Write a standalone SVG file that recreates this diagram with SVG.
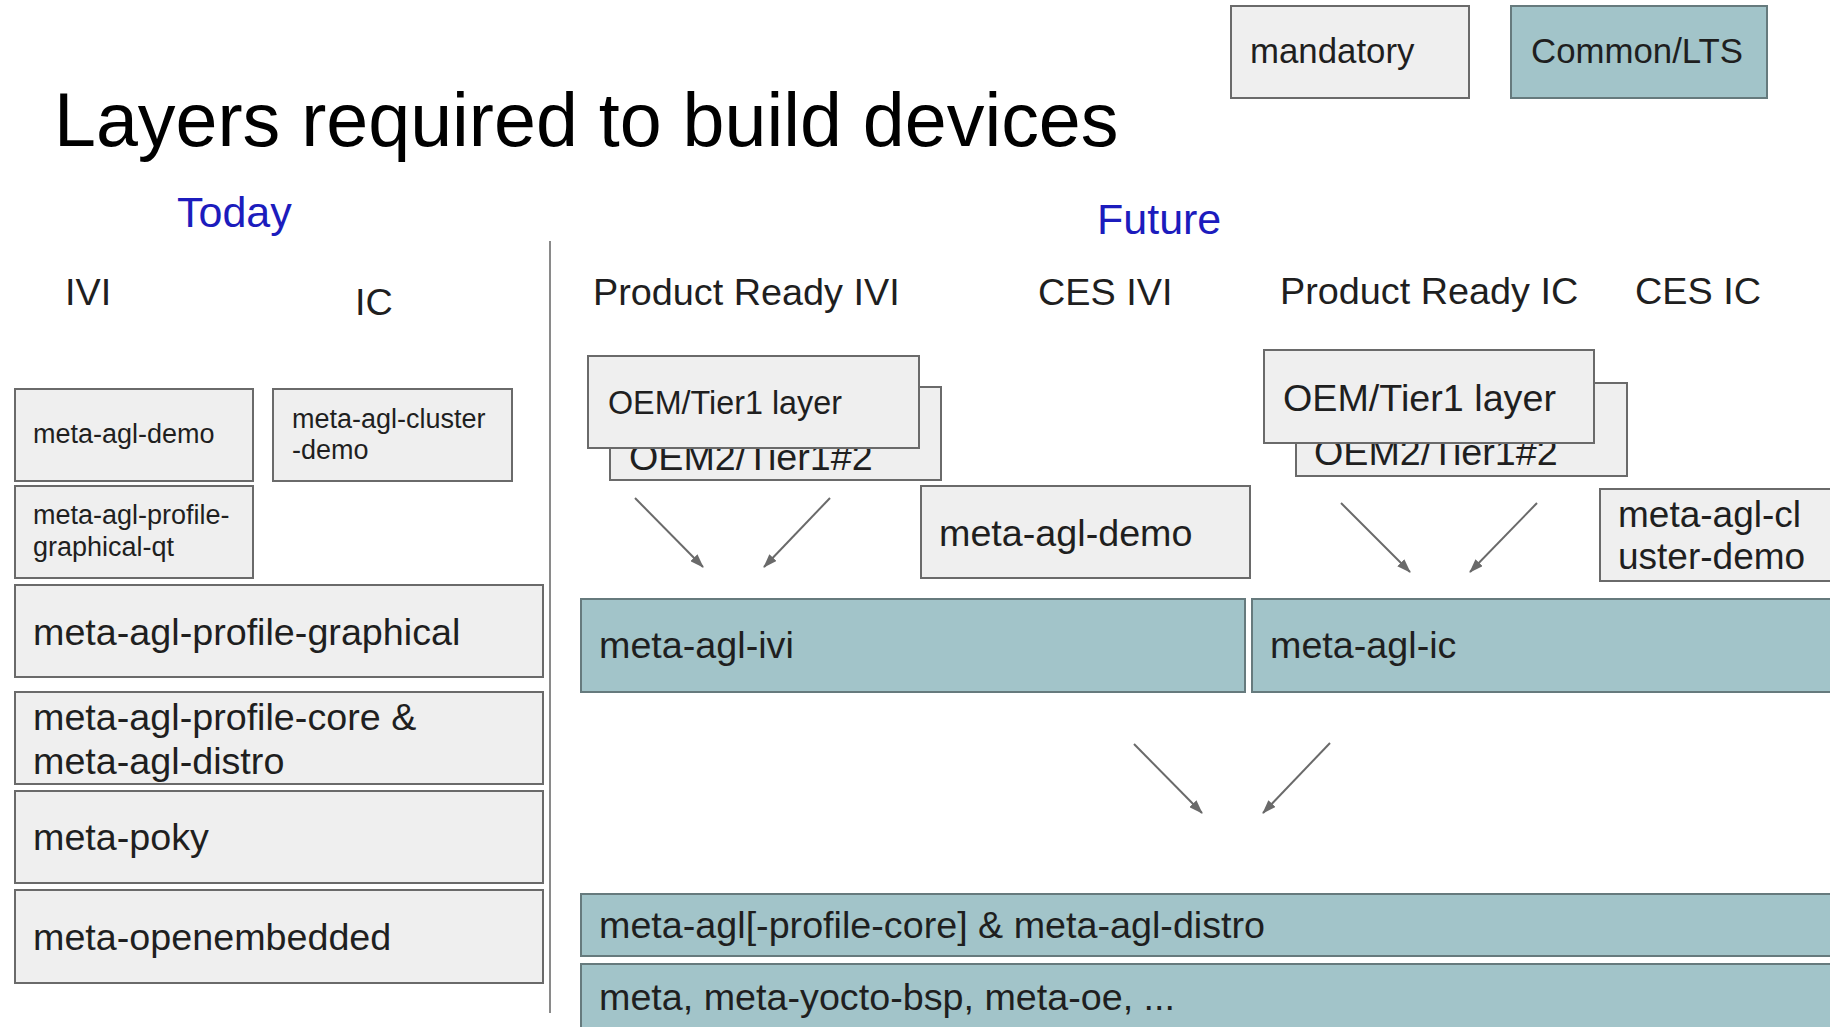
<svg xmlns="http://www.w3.org/2000/svg" width="1830" height="1027" viewBox="0 0 1830 1027">
<style>
  text { font-family: "Liberation Sans", Arial, sans-serif; fill: #1f1f1f; }
  .g { fill: #efefef; stroke: #6a6a6a; stroke-width: 2; }
  .t { fill: #a2c4c9; stroke: #667a7d; stroke-width: 2; }
  .hdr { font-size: 37.8px; }
  .blue { fill: #1c1cbd; font-size: 43px; }
  .s25 { font-size: 27px; }
  .s37 { font-size: 37.7px; }
  .conn { stroke: #6a6a6a; stroke-width: 2; fill: none; marker-end: url(#ah); }
</style>
<defs>
  <marker id="ah" markerUnits="userSpaceOnUse" markerWidth="14" markerHeight="10" refX="13" refY="5" orient="auto">
    <path d="M0,0 L14,5 L0,10 z" fill="#6a6a6a"/>
  </marker>
</defs>
<rect width="1830" height="1027" fill="#ffffff"/>

<g id="legend-mandatory"><rect class="g" x="1231" y="6" width="238" height="92"/><text x="1250" y="63" style="font-size:34.8px">mandatory</text></g>
<g id="legend-common"><rect class="t" x="1511" y="6" width="256" height="92"/><text x="1531" y="63" style="font-size:34.8px">Common/LTS</text></g>

<text id="title" x="54" y="146" style="font-size:75.4px;fill:#000">Layers required to build devices</text>
<text id="today" class="blue" x="177" y="227">Today</text>
<text id="future" class="blue" x="1097" y="234">Future</text>

<text class="hdr" x="65" y="305">IVI</text>
<text class="hdr" x="355" y="315">IC</text>
<text class="hdr" x="593" y="305">Product Ready IVI</text>
<text class="hdr" x="1038" y="305">CES IVI</text>
<text class="hdr" x="1280" y="304">Product Ready IC</text>
<text class="hdr" x="1635" y="304">CES IC</text>

<line id="divider" x1="550" y1="241" x2="550" y2="1013" stroke="#8a8a8a" stroke-width="2"/>

<!-- Today column -->
<g id="today-demo"><rect class="g" x="15" y="389" width="238" height="92"/><text class="s25" x="33" y="443">meta-agl-demo</text></g>
<g id="today-cluster-demo"><rect class="g" x="273" y="389" width="239" height="92"/><text class="s25" x="292" y="428">meta-agl-cluster</text><text class="s25" x="292" y="459">-demo</text></g>
<g id="today-profile-graphical-qt"><rect class="g" x="15" y="486" width="238" height="92"/><text class="s25" x="33" y="524">meta-agl-profile-</text><text class="s25" x="33" y="556">graphical-qt</text></g>
<g id="today-profile-graphical"><rect class="g" x="15" y="585" width="528" height="92"/><text class="s37" x="33" y="645">meta-agl-profile-graphical</text></g>
<g id="today-profile-core"><rect class="g" x="15" y="692" width="528" height="92"/><text class="s37" x="33" y="730">meta-agl-profile-core &amp;</text><text class="s37" x="33" y="774">meta-agl-distro</text></g>
<g id="today-poky"><rect class="g" x="15" y="791" width="528" height="92"/><text class="s37" x="33" y="850">meta-poky</text></g>
<g id="today-openembedded"><rect class="g" x="15" y="890" width="528" height="93"/><text class="s37" x="33" y="950">meta-openembedded</text></g>

<!-- Future column -->
<g id="ivi-oem2"><rect class="g" x="610" y="387" width="331" height="93"/><text class="s37" x="629" y="470">OEM2/Tier1#2</text></g>
<g id="ivi-oem1"><rect class="g" x="588" y="356" width="331" height="92"/><text x="608" y="414" style="font-size:32.3px">OEM/Tier1 layer</text></g>
<g id="ces-ivi-demo"><rect class="g" x="921" y="486" width="329" height="92"/><text class="s37" x="939" y="546">meta-agl-demo</text></g>
<g id="ic-oem2"><rect class="g" x="1296" y="383" width="331" height="93"/><text class="s37" x="1314" y="465">OEM2/Tier1#2</text></g>
<g id="ic-oem1"><rect class="g" x="1264" y="350" width="330" height="93"/><text class="s37" x="1283" y="411">OEM/Tier1 layer</text></g>
<g id="ces-ic-cluster-demo"><rect class="g" x="1600" y="489" width="240" height="92"/><text x="1618" y="527" style="font-size:37px">meta-agl-cl</text><text x="1618" y="569" style="font-size:37px">uster-demo</text></g>

<g id="meta-agl-ivi"><rect class="t" x="581" y="599" width="664" height="93"/><text class="s37" x="599" y="658">meta-agl-ivi</text></g>
<g id="meta-agl-ic"><rect class="t" x="1252" y="599" width="590" height="93"/><text class="s37" x="1270" y="658">meta-agl-ic</text></g>
<g id="meta-agl-core"><rect class="t" x="581" y="894" width="1261" height="62"/><text class="s37" x="599" y="938">meta-agl[-profile-core] &amp; meta-agl-distro</text></g>
<g id="meta-base"><rect class="t" x="581" y="964" width="1261" height="80"/><text class="s37" x="599" y="1010">meta, meta-yocto-bsp, meta-oe, ...</text></g>

<g id="connectors">
  <line class="conn" x1="635" y1="498" x2="703" y2="567"/>
  <line class="conn" x1="830" y1="498" x2="764" y2="567"/>
  <line class="conn" x1="1341" y1="503" x2="1410" y2="572"/>
  <line class="conn" x1="1537" y1="503" x2="1470" y2="572"/>
  <line class="conn" x1="1134" y1="744" x2="1202" y2="813"/>
  <line class="conn" x1="1330" y1="743" x2="1263" y2="813"/>
</g>
</svg>
